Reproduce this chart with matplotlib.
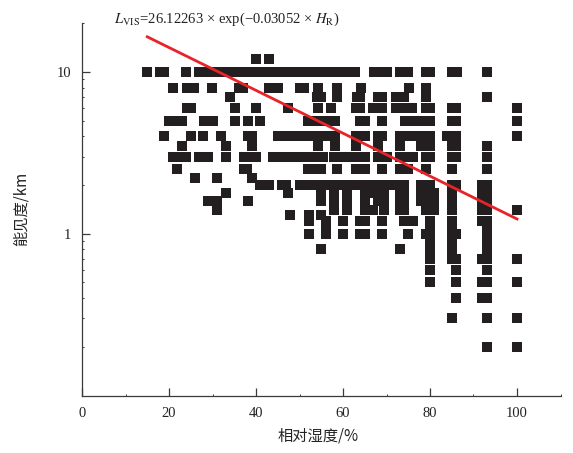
import numpy as np
import matplotlib
matplotlib.use("Agg")
import matplotlib.pyplot as plt
from matplotlib.ticker import FixedLocator, NullFormatter, LogLocator

# ---- data: relative humidity (%) at each visibility level (km)
rh_v12 = [40.0, 42.9]
rh_v10 = [14.9, 17.9, 18.9, 24.0, 26.9, 28.5, 30.0, 31.6, 33.1, 34.7, 36.2, 37.8, 39.3,
          40.9, 42.4, 44.0, 45.5, 47.1, 48.6, 50.2, 51.7, 53.3, 54.8, 56.4, 57.9, 59.5,
          61.0, 62.8, 67.1, 68.6, 70.1, 73.1, 74.9, 79.1, 80.0, 85.1, 86.2, 93.1]
rh_v8 = [20.9, 24.1, 25.7, 29.9, 36.0, 37.0, 43.0, 44.0, 45.0, 50.0, 51.0, 54.2, 58.7,
         64.1, 75.1, 79.1]
rh_v7 = [34.0, 54.0, 55.0, 58.7, 63.2, 64.0, 68.0, 69.0, 72.2, 73.1, 74.0, 79.1, 93.1]
rh_v6 = [24.1, 25.0, 35.2, 40.0, 47.4, 54.2, 57.2, 63.0, 64.0, 67.0, 68.0, 69.0, 72.2,
         73.5, 74.7, 75.9, 79.0, 80.0, 85.0, 86.0, 100.0]
rh_v5 = [20.0, 21.0, 22.0, 23.0, 28.0, 29.0, 30.0, 35.2, 38.2, 41.0, 52.0, 53.0, 54.0,
         55.0, 56.0, 57.0, 58.2, 64.0, 65.0, 69.0, 74.3, 75.5, 76.7, 77.9, 79.0, 80.0,
         85.0, 86.0, 100.0]
rh_v4 = [18.9, 25.0, 27.9, 32.0, 38.2, 39.0, 45.0, 46.5, 48.0, 49.5, 51.0, 52.5, 54.0,
         55.5, 57.0, 58.2, 63.0, 64.0, 65.0, 68.0, 69.0, 73.0, 74.4, 75.8, 77.2, 78.6,
         80.0, 84.0, 85.0, 86.0, 100.0]
rh_v35 = [23.0, 33.0, 39.0, 54.2, 58.2, 63.0, 68.0, 73.0, 78.0, 79.0, 80.0, 85.0, 86.0,
          93.1]
rh_v3 = [21.0, 22.0, 23.0, 24.0, 27.0, 28.0, 29.0, 33.0, 37.3, 38.2, 39.1, 40.0, 44.0,
         45.5, 47.0, 48.5, 50.0, 51.5, 53.0, 54.5, 55.5, 58.0, 59.5, 61.0, 62.5, 64.0,
         65.0, 68.0, 69.0, 70.0, 73.0, 74.0, 75.0, 76.0, 79.0, 80.0, 85.0, 86.0, 93.1]
rh_v25 = [21.8, 37.3, 38.0, 52.0, 53.0, 54.0, 55.0, 58.7, 63.0, 64.0, 65.0, 69.0, 73.0,
          74.0, 75.0, 79.0, 85.0, 93.1]
rh_v22 = [26.0, 31.0, 39.0]
rh_v2 = [41.0, 42.0, 43.0, 46.0, 47.0, 50.0, 51.5, 53.0, 54.5, 56.0, 58.0, 59.0, 60.5,
         62.0, 63.5, 65.0, 66.5, 68.0, 69.5, 71.0, 72.5, 74.0, 78.0, 79.0, 80.0, 85.0,
         86.0, 92.0, 93.0]
rh_v18 = [33.0, 47.4, 55.0, 58.0, 61.0, 65.0, 66.5, 68.0, 69.5, 73.0, 74.0, 78.0, 79.5,
          81.0, 85.0, 92.0, 93.0]
rh_v16 = [29.0, 30.0, 31.0, 38.2, 55.0, 58.0, 61.0, 65.0, 68.0, 69.5, 73.0, 74.0, 78.0,
          79.5, 81.0, 85.0, 92.0, 93.0]
rh_v15 = [79.0, 85.0, 93.0]
rh_v14 = [31.0, 58.0, 61.0, 65.0, 67.0, 69.5, 73.0, 74.0, 79.0, 81.0, 85.0, 92.0, 93.0,
          100.0]
rh_v13 = [47.8, 52.2, 55.0]
rh_v12b = [52.2, 56.0, 60.0, 64.0, 65.0, 69.0, 74.0, 75.0, 76.0, 80.0, 85.0, 92.0, 93.0]
rh_v11 = [56.0, 80.0, 85.0, 93.0]
rh_v10b = [52.2, 56.0, 60.0, 64.0, 65.0, 69.0, 75.0, 79.0, 80.0, 85.0, 86.0, 93.0]
rh_v09 = [80.0, 85.0, 93.0]
rh_v08 = [55.0, 73.0, 80.0, 85.0, 93.0]
rh_v07 = [80.0, 85.0, 86.0, 92.0, 93.0, 100.0]
rh_v06 = [80.0, 86.0, 93.0]
rh_v05 = [80.0, 86.0, 92.0, 93.0, 100.0]
rh_v04 = [86.0, 92.0, 93.0]
rh_v03 = [85.0, 93.0, 100.0]
rh_v02 = [93.0, 100.0]

vis_levels = [12, 10, 8, 7, 6, 5, 4, 3.5, 3, 2.5, 2.2, 2, 1.8, 1.6, 1.5, 1.4, 1.3, 1.2,
              1.1, 1.0, 0.9, 0.8, 0.7, 0.6, 0.5, 0.4, 0.3, 0.2]
rh_groups = [rh_v12, rh_v10, rh_v8, rh_v7, rh_v6, rh_v5, rh_v4, rh_v35, rh_v3, rh_v25,
             rh_v22, rh_v2, rh_v18, rh_v16, rh_v15, rh_v14, rh_v13, rh_v12b, rh_v11,
             rh_v10b, rh_v09, rh_v08, rh_v07, rh_v06, rh_v05, rh_v04, rh_v03, rh_v02]

# fitted curve L = a * exp(b * H)
fit_a = 26.12263
fit_b = -0.03052
fit_range = (15, 100)

x_ticks = [0, 20, 40, 60, 80, 100]
y_ticks = [1, 10]

# ---- build arrays
rh = np.concatenate([np.asarray(g, float) for g in rh_groups])
vis = np.concatenate([np.full(len(g), v, float) for g, v in zip(rh_groups, vis_levels)])

plt.rcParams['mathtext.fontset'] = 'stix'
serif = ['Liberation Serif', 'DejaVu Serif']
cjk = ['Noto Sans CJK SC', 'Liberation Serif']

fig = plt.figure(figsize=(5.73, 4.53), dpi=100)
ax = fig.add_axes([82/573, 1 - 395.5/453, (560.5-82)/573, (395.5-23.4)/453])

ax.scatter(rh, vis, marker='s', s=47, color='#231f20', linewidths=0, zorder=2)

hx = np.linspace(fit_range[0], fit_range[1], 200)
ax.plot(hx, fit_a*np.exp(fit_b*hx), color='#e8232a', lw=2.0, zorder=3)

ax.set_yscale('log')
ax.set_xlim(0, 110)
ax.set_ylim(0.1, 20)

ax.xaxis.set_major_locator(FixedLocator(x_ticks))
ax.xaxis.set_minor_locator(FixedLocator([10, 30, 50, 70, 90, 110]))
ax.yaxis.set_major_locator(FixedLocator(y_ticks))
ax.yaxis.set_minor_locator(LogLocator(base=10, subs=np.arange(2, 10)))
ax.yaxis.set_minor_formatter(NullFormatter())
ax.set_xticklabels([str(t) for t in x_ticks], family=serif, fontsize=10.5)
ax.set_yticklabels([str(t) for t in y_ticks], family=serif, fontsize=10.5)

axcol = '#3a3a3a'
for s in ['top', 'right']:
    ax.spines[s].set_visible(False)
for s in ['left', 'bottom']:
    ax.spines[s].set_color(axcol)
    ax.spines[s].set_linewidth(0.9)
ax.tick_params(which='major', direction='in', length=5.5, width=0.9, color=axcol,
               labelcolor='#222222', pad=8)
ax.tick_params(which='minor', direction='in', length=1.5, width=0.7, color=axcol)

fig.text(318/573, 1 - 436/453, '相对湿度/%', family=cjk, fontsize=11,
         ha='center', va='center', color='#222222')
fig.text(21/573, 1 - 209/453, '能见度/km', family=cjk, fontsize=11,
         ha='center', va='center', rotation=90, color='#222222')
fig.text(114/573, 1 - 19/453,
         r'$L_{\mathrm{VIS}}$=26.12263 × exp(−0.03052 × $H_{\mathrm{R}}$)',
         family=serif, fontsize=10.5, ha='left', va='center', color='#222222')

fig.savefig('out.png', dpi=100)
